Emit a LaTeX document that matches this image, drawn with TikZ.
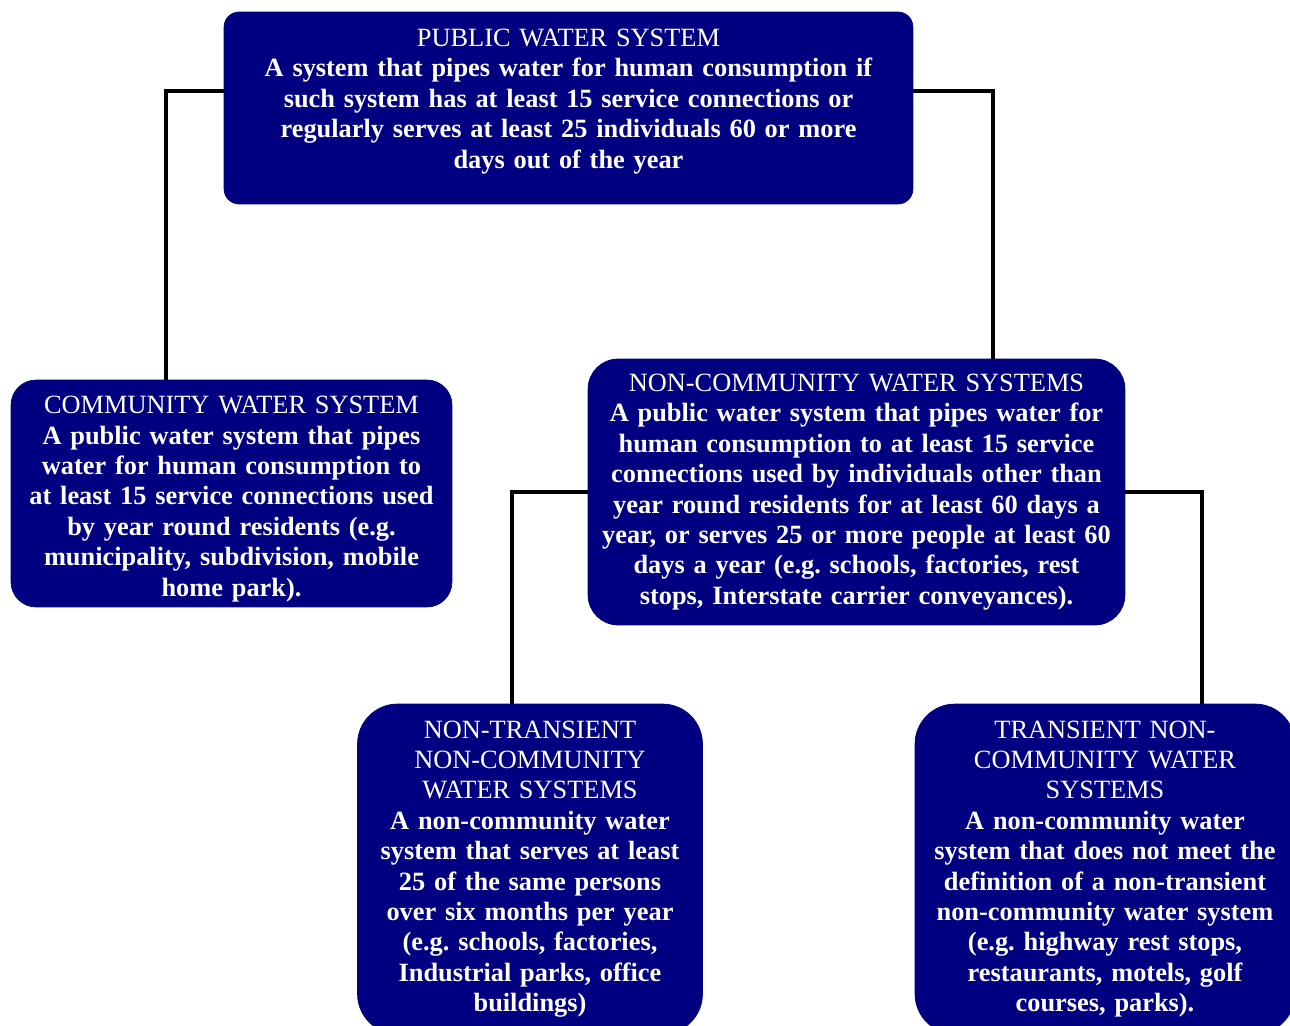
\documentclass[tikz,border=0pt]{standalone}
\usepackage{fontspec}
\setmainfont{Liberation Serif}
\frenchspacing
\definecolor{navybox}{RGB}{0,0,128}
\begin{document}
\begin{tikzpicture}[x=0.02cm,y=-0.02cm,
  sysbox/.style={rectangle,fill=navybox,draw=navybox,text=white,inner sep=0pt,
    align=center,font=\fontsize{15}{17.3}\selectfont\bfseries},
  link/.style={draw=black,line width=2.2pt}]
\useasboundingbox (0,0) rectangle (1290,1026);
\node[sysbox,rounded corners=0.3cm,minimum width=13.78cm,minimum height=3.84cm,text width=13.78cm] (pws) at (568.5,108)
  {{\mdseries PUBLIC WATER SYSTEM}\\ A system that pipes water for human consumption if\\ such system has at least 15 service connections or\\ regularly serves at least 25 individuals 60 or more\\ days out of the year\par\vspace{0.26cm}};
\node[sysbox,rounded corners=0.5cm,minimum width=8.82cm,minimum height=4.54cm,text width=8.82cm] (cws) at (231.5,493.5)
  {{\mdseries COMMUNITY WATER SYSTEM}\\ A public water system that pipes\\ water for human consumption to\\ at least 15 service connections used\\ by year round residents (e.g.\\ municipality, subdivision, mobile\\ home park).\par\vspace{-0.22cm}};
\node[sysbox,rounded corners=0.6cm,minimum width=10.74cm,minimum height=5.32cm,text width=10.74cm] (ncws) at (856.5,492)
  {{\mdseries NON-COMMUNITY WATER SYSTEMS}\\ A public water system that pipes water for\\ human consumption to at least 15 service\\ connections used by individuals other than\\ year round residents for at least 60 days a\\ year, or serves 25 or more people at least 60\\ days a year (e.g. schools, factories, rest\\ stops, Interstate carrier conveyances).};
\node[sysbox,rounded corners=0.8cm,minimum width=6.9cm,minimum height=6.6cm,text width=6.9cm] (ntnc) at (530,869)
  {{\mdseries NON-TRANSIENT}\\ {\mdseries NON-COMMUNITY}\\ {\mdseries WATER SYSTEMS}\\ A non-community water\\ system that serves at least\\ 25 of the same persons\\ over six months per year\\ (e.g. schools, factories,\\ Industrial parks, office\\ buildings)};
\node[sysbox,rounded corners=0.8cm,minimum width=7.6cm,minimum height=6.6cm,text width=7.6cm] (tnc) at (1105,869)
  {{\mdseries TRANSIENT NON-}\\ {\mdseries COMMUNITY WATER}\\ {\mdseries SYSTEMS}\\ A non-community water\\ system that does not meet the\\ definition of a non-transient\\ non-community water system\\ (e.g. highway rest stops,\\ restaurants, motels, golf\\ courses, parks).};
\draw[link] ([yshift=0.34cm]pws.west) -| ([xshift=-1.31cm]cws.north);
\draw[link] ([yshift=0.34cm]pws.east) -| ([xshift=2.73cm]ncws.north);
\draw[link] (ncws.west) -| ([xshift=-0.36cm]ntnc.north);
\draw[link] (ncws.east) -| ([xshift=1.94cm]tnc.north);
\end{tikzpicture}
\end{document}
